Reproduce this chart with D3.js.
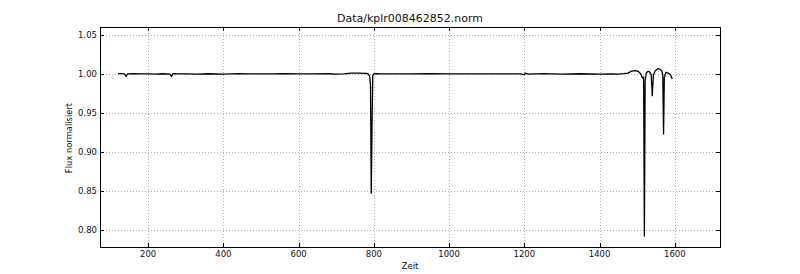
<!DOCTYPE html>
<html lang="de">
<head>
<meta charset="UTF-8">
<title>Data/kplr008462852.norm</title>
<script src="https://d3js.org/d3.v7.min.js"></script>
<style>
  body { margin: 0; background: #fff; }
  text { font-family: "DejaVu Sans", sans-serif; fill: #111; }
</style>
</head>
<body>
<svg width="800" height="274"></svg>
<script>
// light curve
const zeit = [120, 130, 138, 141, 145, 160, 180, 200, 220, 240, 258, 262, 266, 280, 300, 330, 360,
  400, 420, 440, 470, 500, 530, 560, 600, 640, 680, 700, 720, 740, 760, 775, 782, 786, 789, 791,
  793, 795, 797, 800, 805, 820, 850, 900, 950, 1000, 1050, 1100, 1150, 1190, 1200, 1203, 1210,
  1250, 1300, 1350, 1400, 1430, 1450, 1465, 1475, 1485, 1495, 1503, 1510, 1514, 1517, 1519, 1521,
  1524, 1528, 1533, 1537, 1540, 1543, 1548, 1555, 1560, 1565, 1568, 1570, 1572, 1576, 1582, 1588, 1593];
const flux = [1.0003, 1.0002, 0.9995, 0.9965, 0.9998, 1.0001, 0.9998, 1.0000, 0.9997, 1.0001, 0.9997,
  0.9965, 1.0002, 0.9999, 1.0000, 0.9997, 1.0001, 0.9996, 1.0000, 1.0001, 0.9998, 1.0000, 0.9999,
  1.0001, 1.0000, 0.9998, 1.0001, 0.9997, 1.0000, 1.0008, 1.0010, 1.0006, 1.0004, 0.9995, 0.996,
  0.985, 0.847, 0.930, 0.998, 1.0000, 1.0001, 0.9998, 1.0000, 0.9999, 1.0001, 0.9998, 1.0000,
  0.9999, 1.0000, 0.9998, 0.9990, 1.0008, 0.9996, 1.0003, 0.9995, 1.0001, 0.9997, 1.0000, 0.9995,
  1.0002, 1.0008, 1.0035, 1.0040, 1.0030, 0.9995, 0.9945, 0.996, 0.792, 0.990, 1.0010, 1.0030,
  1.0025, 0.9990, 0.972, 0.9985, 1.0040, 1.0065, 1.0060, 1.0040, 0.998, 0.923, 0.995, 1.0020,
  1.0010, 0.9990, 0.9935];

const xTicks = [200, 400, 600, 800, 1000, 1200, 1400, 1600];
const yTicks = [0.80, 0.85, 0.90, 0.95, 1.00, 1.05];
const title = "Data/kplr008462852.norm";

const svg = d3.select("svg");
const m = {left: 100, right: 720, top: 27, bottom: 247};

const x = d3.scaleLinear().domain([72, 1720]).range([m.left, m.right]);
const y = d3.scaleLinear().domain([0.778, 1.06]).range([m.bottom, m.top]);

// grid
const grid = svg.append("g")
    .attr("stroke", "#b0b0b0")
    .attr("stroke-width", 1)
    .attr("stroke-dasharray", "1,2");
grid.selectAll(".gx").data(xTicks).join("line")
    .attr("x1", d => Math.round(x(d)) + 0.5).attr("x2", d => Math.round(x(d)) + 0.5)
    .attr("y1", m.top).attr("y2", m.bottom);
grid.selectAll(".gy").data(yTicks).join("line")
    .attr("y1", d => Math.round(y(d)) + 0.5).attr("y2", d => Math.round(y(d)) + 0.5)
    .attr("x1", m.left).attr("x2", m.right);

// inward ticks on every side
const tk = svg.append("g").attr("stroke", "#000").attr("stroke-width", 1);
xTicks.forEach(d => {
  const px = Math.round(x(d)) + 0.5;
  tk.append("line").attr("x1", px).attr("x2", px).attr("y1", m.bottom).attr("y2", m.bottom - 4);
  tk.append("line").attr("x1", px).attr("x2", px).attr("y1", m.top).attr("y2", m.top + 4);
});
yTicks.forEach(d => {
  const py = Math.round(y(d)) + 0.5;
  tk.append("line").attr("y1", py).attr("y2", py).attr("x1", m.left).attr("x2", m.left + 4);
  tk.append("line").attr("y1", py).attr("y2", py).attr("x1", m.right).attr("x2", m.right - 4);
});

// curve
const pts = zeit.map((t, i) => [t, flux[i]]);
svg.append("path")
    .datum(pts)
    .attr("fill", "none")
    .attr("stroke", "#000")
    .attr("stroke-width", 1.3)
    .attr("stroke-linejoin", "round")
    .attr("d", d3.line().x(d => x(d[0])).y(d => y(d[1])));

// frame
svg.append("rect")
    .attr("x", m.left + 0.5).attr("y", m.top + 0.5)
    .attr("width", m.right - m.left).attr("height", m.bottom - m.top)
    .attr("fill", "none").attr("stroke", "#000").attr("stroke-width", 1);

// tick labels
svg.append("g").selectAll("text").data(xTicks).join("text")
    .attr("x", d => x(d)).attr("y", 257)
    .attr("text-anchor", "middle").attr("font-size", 8.5)
    .text(d => d);
svg.append("g").selectAll("text").data(yTicks).join("text")
    .attr("x", m.left - 3).attr("y", d => y(d) + 3.2)
    .attr("text-anchor", "end").attr("font-size", 8.5)
    .text(d => d3.format(".2f")(d));

// titles
svg.append("text").attr("x", (m.left + m.right) / 2).attr("y", 22)
    .attr("text-anchor", "middle").attr("font-size", 11).text(title);
svg.append("text").attr("x", (m.left + m.right) / 2).attr("y", 269)
    .attr("text-anchor", "middle").attr("font-size", 8.6).text("Zeit");
svg.append("text")
    .attr("transform", `translate(72,${(m.top + m.bottom) / 2 + 1}) rotate(-90)`)
    .attr("text-anchor", "middle").attr("font-size", 8.4).text("Flux normalisiert");
</script>
</body>
</html>
